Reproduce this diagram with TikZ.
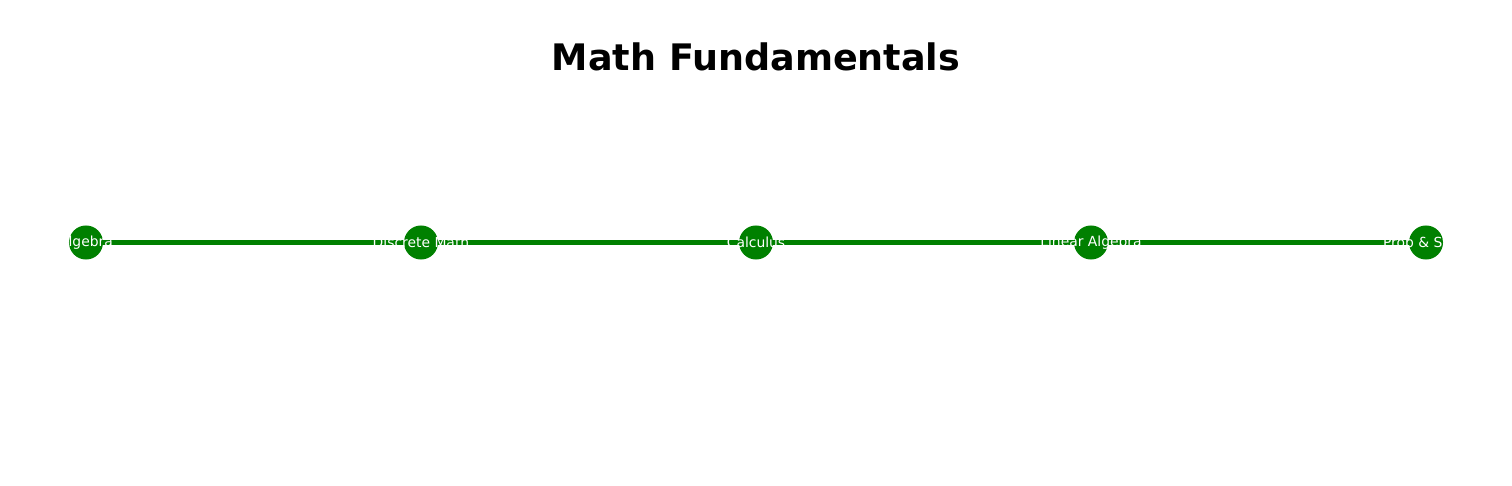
\documentclass[tikz,border=0pt]{standalone}
\usepackage{fontspec}
\setmainfont{DejaVu Sans}
\definecolor{nodegreen}{RGB}{0,128,0}
\begin{document}
\begin{tikzpicture}[x=0.72pt,y=-0.72pt,
  topic/.style={circle,fill=nodegreen,draw=none,minimum size=24.5pt,inner sep=0pt},
  topiclabel/.style={text=white,font=\fontsize{10}{12}\selectfont,inner sep=0pt},
  link/.style={draw=nodegreen,line width=4.3pt},
  titletext/.style={font=\fontsize{26.3}{31}\bfseries\selectfont,inner sep=0pt}]
\useasboundingbox (0,0) rectangle (1512,486);
\node[titletext] (title) at (756,57) {Math Fundamentals};
\node[topic] (a) at (86,242.5) {};
\node[topic] (b) at (421,242.5) {};
\node[topic] (c) at (756,242.5) {};
\node[topic] (d) at (1091,242.5) {};
\node[topic] (e) at (1426,242.5) {};
\draw[link] (a) -- (b);
\draw[link] (b) -- (c);
\draw[link] (c) -- (d);
\draw[link] (d) -- (e);
\node[topiclabel] (la) at (a) {Algebra};
\node[topiclabel] (lb) at (b) {Discrete Math};
\node[topiclabel] (lc) at (c) {Calculus};
\node[topiclabel] (ld) at (d) {Linear Algebra};
\node[topiclabel] (le) at (e) {Prob \& Stats};
\end{tikzpicture}
\end{document}
